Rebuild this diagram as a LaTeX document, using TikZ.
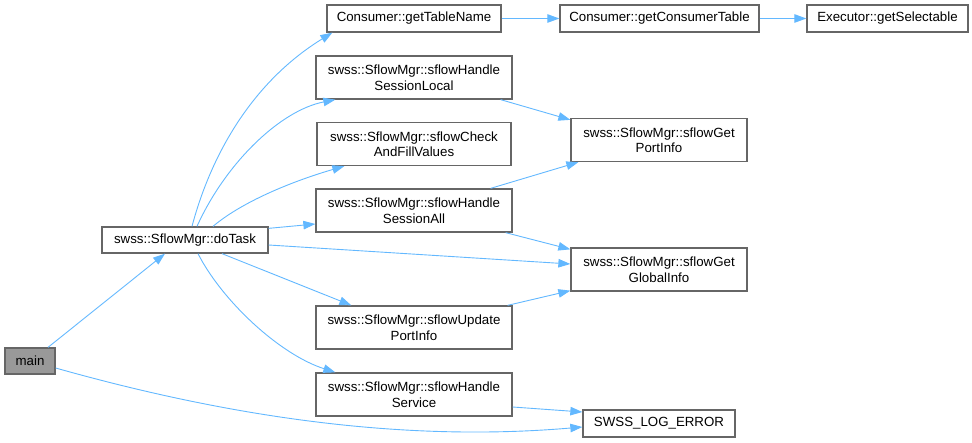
\documentclass[tikz,border=0pt]{standalone}
\usepackage{fontspec}
\setmainfont{Liberation Sans}
\usetikzlibrary{arrows.meta}
\definecolor{edgeblue}{HTML}{63B8FF}
\definecolor{boxgray}{HTML}{666666}
\definecolor{mainfill}{HTML}{999999}
\begin{document}
\begin{tikzpicture}[x=1pt, y=-1pt,
  box/.style={draw=boxgray, line width=1.3pt, fill=white, inner sep=0pt, align=center,
    minimum height=27pt, font=\fontsize{13.3}{15.5}\selectfont},
  twoline/.style={box, minimum height=43pt},
  call/.style={draw=edgeblue, line width=0.9pt, -{Triangle[length=12pt, width=8.5pt]}}]
  \useasboundingbox (0,0) rectangle (972,443);
  % nodes, placed at their centres
  \node[box, minimum width=50pt, minimum height=26pt, fill=mainfill] (main) at (30,361) {main};
  \node[box, minimum width=166pt, minimum height=26pt] (doTask) at (185,240) {swss::SflowMgr::doTask};
  \node[box, minimum width=174pt] (getTableName) at (414,18.5) {Consumer::getTableName};
  \node[box, minimum width=199pt] (getConsumerTable) at (659.5,18.5) {Consumer::getConsumerTable};
  \node[box, minimum width=161pt] (getSelectable) at (887.5,18.5) {Executor::getSelectable};
  \node[twoline, minimum width=196pt] (sessionLocal) at (414,77.5) {swss::SflowMgr::sflowHandle\\SessionLocal};
  \node[twoline, minimum width=194pt] (checkFill) at (414,144) {swss::SflowMgr::sflowCheck\\AndFillValues};
  \node[twoline, minimum width=176pt] (getPortInfo) at (659,140) {swss::SflowMgr::sflowGet\\PortInfo};
  \node[twoline, minimum width=196pt] (sessionAll) at (414,210.5) {swss::SflowMgr::sflowHandle\\SessionAll};
  \node[twoline, minimum width=176pt] (getGlobalInfo) at (659,269.5) {swss::SflowMgr::sflowGet\\GlobalInfo};
  \node[twoline, minimum width=196pt] (updatePortInfo) at (414,327.5) {swss::SflowMgr::sflowUpdate\\PortInfo};
  \node[twoline, minimum width=196pt] (handleService) at (414,394.5) {swss::SflowMgr::sflowHandle\\Service};
  \node[box, minimum width=152pt] (logError) at (659,423.5) {SWSS\_LOG\_ERROR};
  % calls
  \draw[call] ([xshift=18pt]main.north) -- ([xshift=-20pt]doTask.south);
  \draw[call] ([yshift=-7pt]main.east) .. controls +(195,55) and +(-163,14) .. ([yshift=-3.5pt]logError.west);
  \draw[call] ([xshift=7pt]doTask.north) .. controls +(20,-75) and +(-78,48) .. ([xshift=6pt]getTableName.south west);
  \draw[call] ([xshift=12pt]doTask.north) .. controls +(28,-62) and +(-56,11) .. ([xshift=20pt]sessionLocal.south west);
  \draw[call] ([xshift=28pt]doTask.north) .. controls +(32,-27) and +(-45,13) .. ([xshift=28pt]checkFill.south west);
  \draw[call] ([yshift=-2pt]doTask.north east) -- ([yshift=-13.5pt]sessionAll.west);
  \draw[call] ([yshift=-5pt]doTask.east) -- ([yshift=5.5pt]getGlobalInfo.west);
  \draw[call] ([xshift=37pt]doTask.south) -- ([xshift=36pt]updatePortInfo.north west);
  \draw[call] ([xshift=13pt]doTask.south) .. controls +(24,47) and +(-56,-18) .. ([xshift=20pt]handleService.north west);
  \draw[call] (getTableName.east) -- (getConsumerTable.west);
  \draw[call] (getConsumerTable.east) -- (getSelectable.west);
  \draw[call] ([xshift=-12pt]sessionLocal.south east) -- ([yshift=-2pt]getPortInfo.north west);
  \draw[call] ([xshift=-22pt]sessionAll.north east) -- ([xshift=8pt]getPortInfo.south west);
  \draw[call] ([xshift=-7pt]sessionAll.south east) -- ([yshift=-2pt]getGlobalInfo.north west);
  \draw[call] ([xshift=-5pt]updatePortInfo.north east) -- ([yshift=1pt]getGlobalInfo.south west);
  \draw[call] ([yshift=-12.5pt]handleService.east) -- ([yshift=11.5pt]logError.west);
\end{tikzpicture}
\end{document}
